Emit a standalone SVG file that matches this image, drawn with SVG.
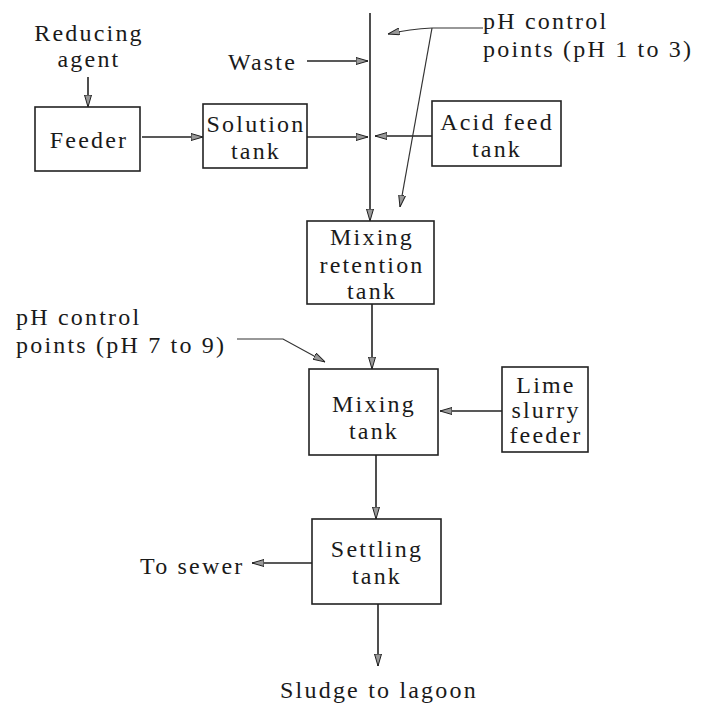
<svg xmlns="http://www.w3.org/2000/svg" width="704" height="705" viewBox="0 0 704 705">
<defs>
<style>
text{font-family:'Liberation Serif','Times New Roman',serif;font-size:24px;fill:#1a1a1a;letter-spacing:2.2px}
.c{text-anchor:middle}
.box{fill:none;stroke:#222;stroke-width:1.6}
.ln{fill:none;stroke:#222;stroke-width:1.6}
.thin{fill:none;stroke:#333;stroke-width:1.2}
</style>
<marker id="ah" viewBox="0 0 12 8" refX="12" refY="4" markerWidth="12" markerHeight="8" markerUnits="userSpaceOnUse" orient="auto">
<path d="M0,0.5 L12,4 L0,7.5 Z" fill="#999" stroke="#222" stroke-width="1"/>
</marker>
</defs>
<rect width="704" height="705" fill="#fff"/>

<g id="reducing-agent"><text class="c" x="89" y="41">Reducing</text><text class="c" x="89" y="67">agent</text></g>
<g id="waste"><text x="228" y="70">Waste</text></g>
<g id="ph-acid-label"><text x="483" y="29">pH control</text><text x="483" y="57">points (pH 1 to 3)</text></g>
<g id="feeder"><rect class="box" x="35" y="107" width="105" height="64"/><text class="c" x="89" y="148">Feeder</text></g>
<g id="solution-tank"><rect class="box" x="203" y="104" width="104" height="64"/><text class="c" x="256" y="132">Solution</text><text class="c" x="256" y="159">tank</text></g>
<g id="acid-feed-tank"><rect class="box" x="432" y="101" width="129" height="65"/><text class="c" x="497" y="130">Acid feed</text><text class="c" x="497" y="157">tank</text></g>
<g id="mixing-retention-tank"><rect class="box" x="307" y="221" width="127" height="83"/><text class="c" x="372" y="245">Mixing</text><text class="c" x="372" y="273">retention</text><text class="c" x="372" y="299">tank</text></g>
<g id="ph-lime-label"><text x="16" y="325">pH control</text><text x="16" y="353">points (pH 7 to 9)</text></g>
<g id="mixing-tank"><rect class="box" x="309" y="369" width="129" height="86"/><text class="c" x="374" y="412">Mixing</text><text class="c" x="374" y="439">tank</text></g>
<g id="lime-slurry-feeder"><rect class="box" x="502" y="367" width="86" height="85"/><text class="c" x="546" y="393">Lime</text><text class="c" x="546" y="418">slurry</text><text class="c" x="546" y="443">feeder</text></g>
<g id="settling-tank"><rect class="box" x="312" y="519" width="129" height="85"/><text class="c" x="377" y="557">Settling</text><text class="c" x="377" y="584">tank</text></g>
<g id="to-sewer"><text x="140" y="574">To sewer</text></g>
<g id="sludge"><text class="c" x="379" y="698">Sludge to lagoon</text></g>

<g id="connectors">
<line class="ln" x1="370" y1="13" x2="370" y2="221" marker-end="url(#ah)"/>
<line class="ln" x1="88" y1="77" x2="88" y2="107" marker-end="url(#ah)"/>
<line class="ln" x1="307" y1="61" x2="368" y2="61" marker-end="url(#ah)"/>
<line class="ln" x1="142" y1="137" x2="203" y2="137" marker-end="url(#ah)"/>
<line class="ln" x1="307" y1="137" x2="368" y2="137" marker-end="url(#ah)"/>
<line class="ln" x1="432" y1="136" x2="375" y2="136" marker-end="url(#ah)"/>
<path class="thin" d="M483,28 L432,28 Q410,29 388,34" marker-end="url(#ah)"/>
<line class="thin" x1="432" y1="28" x2="400" y2="207" marker-end="url(#ah)"/>
<line class="ln" x1="372" y1="304" x2="372" y2="369" marker-end="url(#ah)"/>
<path class="thin" d="M237,339 L283,339 L325,362" marker-end="url(#ah)"/>
<line class="ln" x1="502" y1="411" x2="440" y2="411" marker-end="url(#ah)"/>
<line class="ln" x1="376" y1="455" x2="376" y2="519" marker-end="url(#ah)"/>
<line class="ln" x1="312" y1="563" x2="252" y2="563" marker-end="url(#ah)"/>
<line class="ln" x1="378" y1="604" x2="378" y2="666" marker-end="url(#ah)"/>
</g>
</svg>
